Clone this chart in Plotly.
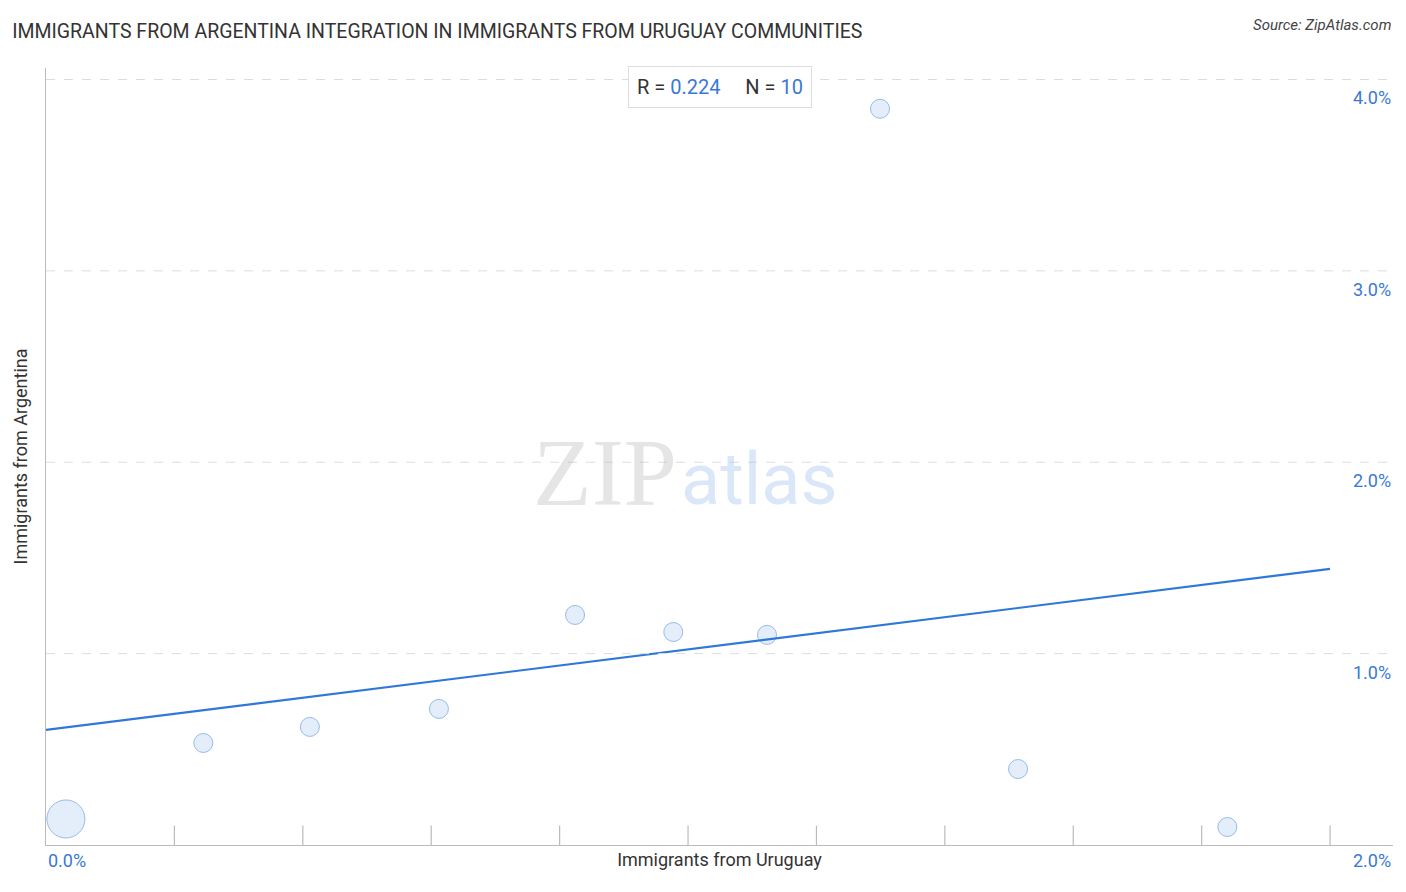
import plotly.graph_objects as go

# Data (percent values)
uruguay = [0.031, 0.245, 0.411, 0.612, 0.824, 0.977, 1.123, 1.299, 1.514, 1.840]
argentina = [0.136, 0.533, 0.617, 0.711, 1.202, 1.113, 1.098, 3.847, 0.397, 0.094]
sizes = [38, 19, 19, 19, 19, 19, 19, 19, 19, 19]
trend_x = [0.0, 2.0]
trend_y = [0.601, 1.443]
y_ticks = [1.0, 2.0, 3.0, 4.0]
x_ticks = [0.2 * i for i in range(11)]

fig = go.Figure()

fig.add_trace(go.Scatter(
    x=uruguay, y=argentina, mode="markers",
    marker=dict(size=sizes, color="rgba(190,215,245,0.6)",
                line=dict(color="#6a9fe0", width=1)),
    showlegend=False,
))
fig.add_trace(go.Scatter(
    x=trend_x, y=trend_y, mode="lines",
    line=dict(color="#2f78d8", width=2.2), showlegend=False,
))

# dashed gridlines
for v in y_ticks:
    fig.add_shape(type="line", xref="paper", yref="y", x0=0, x1=1, y0=v, y1=v,
                  line=dict(color="#dddddd", width=1, dash="dash"))
    fig.add_annotation(x=1, xref="paper", y=v, yref="y", text=f"{v:.1f}%",
                       showarrow=False, xanchor="right", yanchor="top", yshift=-6,
                       font=dict(size=18, color="#3a78d6"))

# tick marks on x axis
for t in x_ticks[1:]:
    fig.add_shape(type="line", xref="x", yref="paper", x0=t, x1=t, y0=0, y1=0.025,
                  line=dict(color="#bbbbbb", width=1.2))

fig.add_annotation(x=0, xref="paper", y=0, yref="paper", text="0.0%",
                   showarrow=False, xanchor="left", yanchor="top", yshift=-3,
                   font=dict(size=18, color="#3a78d6"))
fig.add_annotation(x=1, xref="paper", y=0, yref="paper", text="2.0%",
                   showarrow=False, xanchor="right", yanchor="top", yshift=-3,
                   font=dict(size=18, color="#3a78d6"))

# R / N box
fig.add_annotation(x=0.5, xref="paper", y=1.0, yref="paper",
                   text="R = <span style='color:#3a78d6'>0.224</span>     N = <span style='color:#3a78d6'>10</span>",
                   showarrow=False, yanchor="top", yshift=2,
                   font=dict(size=20, color="#333"), bordercolor="#dddddd",
                   borderwidth=1, borderpad=8, bgcolor="white")

# watermark
fig.add_annotation(x=0.47, xref="paper", y=0.48, yref="paper", text="ZIP",
                   showarrow=False, xanchor="right",
                   font=dict(size=96, color="rgba(180,180,180,0.35)", family="Liberation Serif"))
fig.add_annotation(x=0.47, xref="paper", y=0.47, yref="paper", text="atlas",
                   showarrow=False, xanchor="left",
                   font=dict(size=72, color="rgba(150,185,235,0.35)", family="Roboto"))

fig.update_layout(
    width=1390, height=876,
    margin=dict(l=38, r=5, t=60, b=39),
    plot_bgcolor="white", paper_bgcolor="white",
    font=dict(family="Roboto", color="#333"),
    title=dict(text="IMMIGRANTS FROM ARGENTINA INTEGRATION IN IMMIGRANTS FROM URUGUAY COMMUNITIES",
               x=0.003, y=0.973, xanchor="left", yanchor="middle",
               font=dict(size=19.5, color="#333")),
    xaxis=dict(range=[0, 2.098], showgrid=False, zeroline=False, showticklabels=False,
               showline=True, linecolor="#bbbbbb",
               title=dict(text="Immigrants from Uruguay", font=dict(size=18), standoff=8)),
    yaxis=dict(range=[0, 4.06], showgrid=False, zeroline=False, showticklabels=False,
               showline=True, linecolor="#bbbbbb",
               title=dict(text="Immigrants from Argentina", font=dict(size=18), standoff=12)),
)
fig.add_annotation(x=1, xref="paper", y=1.055, yref="paper", text="<i>Source: ZipAtlas.com</i>",
                   showarrow=False, xanchor="right", yanchor="middle",
                   font=dict(size=15, color="#444"))

fig.write_html("out.html")
